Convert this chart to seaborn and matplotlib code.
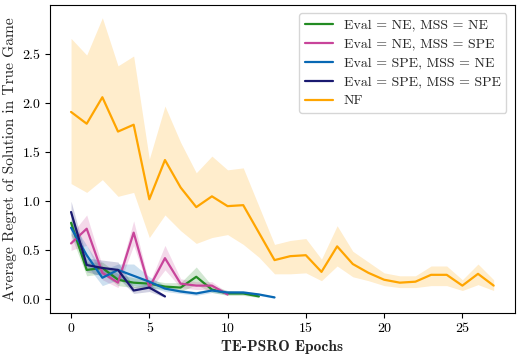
import numpy as np
import pandas as pd
import matplotlib
matplotlib.use("Agg")
import matplotlib.pyplot as plt
from matplotlib import font_manager as fm
import seaborn as sns

# ---------------- data ----------------
labels = ["Eval = NE, MSS = NE", "Eval = NE, MSS = SPE", "Eval = SPE, MSS = NE",
          "Eval = SPE, MSS = SPE", "NF"]
colors = ["#228B22", "#C8449A", "#0868B4", "#191970", "#FFA500"]

ne_ne_mean = [0.78, 0.30, 0.32, 0.20, 0.17, 0.16, 0.13, 0.12, 0.23, 0.10, 0.06, 0.06, 0.03]
ne_ne_lo   = [0.65, 0.24, 0.26, 0.14, 0.12, 0.12, 0.10, 0.08, 0.15, 0.07, 0.04, 0.04, 0.02]
ne_ne_hi   = [0.90, 0.38, 0.38, 0.26, 0.22, 0.20, 0.17, 0.17, 0.33, 0.14, 0.09, 0.08, 0.04]

ne_spe_mean = [0.57, 0.72, 0.27, 0.17, 0.68, 0.12, 0.42, 0.16, 0.14, 0.14, 0.05]
ne_spe_lo   = [0.50, 0.55, 0.20, 0.12, 0.55, 0.09, 0.30, 0.12, 0.10, 0.10, 0.04]
ne_spe_hi   = [0.66, 0.86, 0.34, 0.22, 0.80, 0.16, 0.55, 0.21, 0.18, 0.18, 0.07]

spe_ne_mean = [0.73, 0.45, 0.22, 0.30, 0.24, 0.18, 0.11, 0.08, 0.06, 0.09, 0.07, 0.07, 0.05, 0.02]
spe_ne_lo   = [0.66, 0.35, 0.14, 0.20, 0.14, 0.13, 0.08, 0.06, 0.04, 0.07, 0.05, 0.05, 0.04, 0.01]
spe_ne_hi   = [0.80, 0.55, 0.30, 0.36, 0.36, 0.23, 0.14, 0.10, 0.08, 0.11, 0.09, 0.09, 0.06, 0.03]

spe_spe_mean = [0.89, 0.35, 0.32, 0.30, 0.09, 0.12, 0.03]
spe_spe_lo   = [0.76, 0.28, 0.24, 0.22, 0.06, 0.08, 0.02]
spe_spe_hi   = [1.00, 0.42, 0.40, 0.38, 0.13, 0.16, 0.04]

nf_mean = [1.91, 1.79, 2.06, 1.71, 1.78, 1.02, 1.42, 1.14, 0.94, 1.05, 0.95, 0.96, 0.68, 0.40,
           0.44, 0.45, 0.28, 0.54, 0.36, 0.27, 0.20, 0.17, 0.18, 0.25, 0.25, 0.14, 0.26, 0.14]
nf_lo   = [1.18, 1.09, 1.22, 1.05, 1.09, 0.63, 0.86, 0.70, 0.57, 0.63, 0.66, 0.56, 0.43, 0.26,
           0.26, 0.27, 0.19, 0.34, 0.23, 0.19, 0.14, 0.12, 0.12, 0.14, 0.14, 0.09, 0.15, 0.09]
nf_hi   = [2.66, 2.49, 2.87, 2.38, 2.48, 1.43, 1.97, 1.60, 1.29, 1.46, 1.32, 1.34, 0.95, 0.56,
           0.60, 0.62, 0.41, 0.75, 0.49, 0.38, 0.27, 0.24, 0.24, 0.34, 0.34, 0.20, 0.36, 0.20]

series = [(ne_ne_mean, ne_ne_lo, ne_ne_hi),
          (ne_spe_mean, ne_spe_lo, ne_spe_hi),
          (spe_ne_mean, spe_ne_lo, spe_ne_hi),
          (spe_spe_mean, spe_spe_lo, spe_spe_hi),
          (nf_mean, nf_lo, nf_hi)]

xticks = [0, 5, 10, 15, 20, 25]
yticks = [0.0, 0.5, 1.0, 1.5, 2.0, 2.5]

# ---------------- style ----------------
sns.set_style("ticks")
plt.rcParams["font.family"] = ["serif"]
plt.rcParams["font.serif"] = ["cmr10", "DejaVu Serif"]
plt.rcParams["mathtext.fontset"] = "cm"
plt.rcParams["axes.formatter.use_mathtext"] = True
plt.rcParams["axes.unicode_minus"] = False

rows = []
for lab, (m, lo, hi) in zip(labels, series):
    for i in range(len(m)):
        rows.append({"epoch": i, "regret": m[i], "lo": lo[i], "hi": hi[i], "method": lab})
df = pd.DataFrame(rows)

fig = plt.figure(figsize=(5.2, 3.57), dpi=100)
ax = fig.add_axes([0.096, 0.123, 0.894, 0.863])

for lab, col in zip(labels, colors):
    sub = df[df["method"] == lab]
    ax.fill_between(sub["epoch"], sub["lo"], sub["hi"], color=col, alpha=0.2, linewidth=0)

sns.lineplot(data=df, x="epoch", y="regret", hue="method", hue_order=labels,
             palette=dict(zip(labels, colors)), linewidth=1.6, ax=ax, legend=True)

ax.set_xticks(xticks)
ax.set_yticks(yticks)
ax.set_xticklabels([str(t) for t in xticks])
ax.set_yticklabels([f"{t:.1f}" for t in yticks])
ax.set_xlim(-1.35, 28.35)
ax.set_ylim(-0.14, 3.0)
ax.tick_params(labelsize=10, length=3.5, width=0.8, colors="black")
for s in ax.spines.values():
    s.set_linewidth(0.8)
    s.set_color("black")

bold = fm.FontProperties(family="cmb10", size=11.2)
ax.set_xlabel("TE-PSRO Epochs", fontproperties=bold, labelpad=4)
ax.set_ylabel("Average Regret of Solution in True Game", fontsize=11.1, labelpad=4)

leg = ax.legend(loc="upper right", fontsize=10, frameon=True, handlelength=2.0,
                borderaxespad=0.6, labelspacing=0.45)
leg.get_frame().set_edgecolor("#cccccc")
leg.set_title(None)

fig.savefig("out.png", dpi=100)
